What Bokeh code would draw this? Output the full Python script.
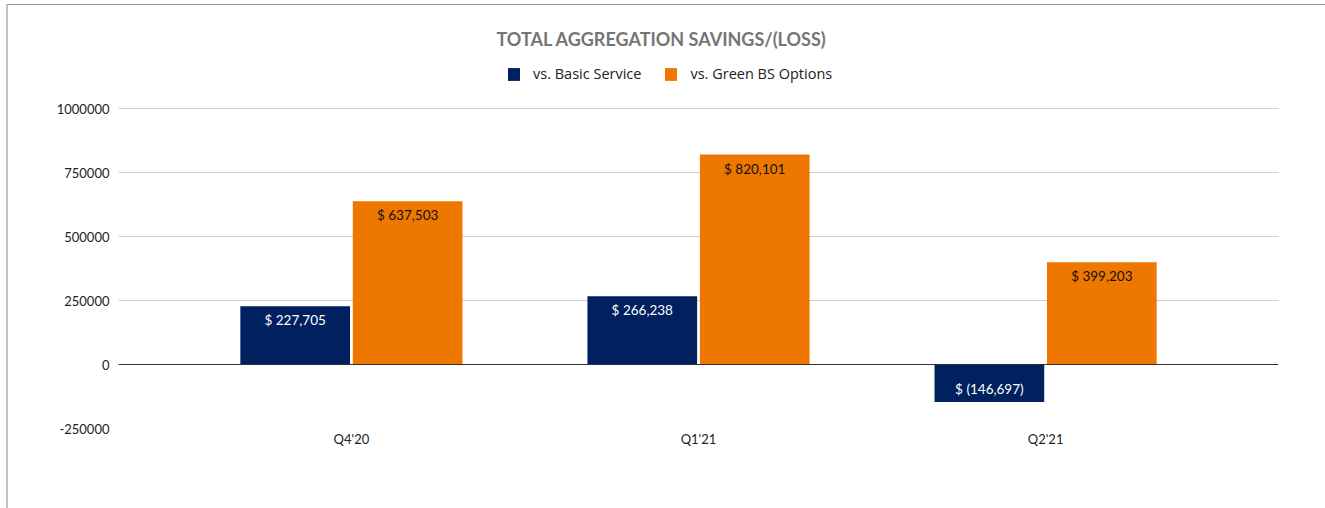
from bokeh.plotting import figure
from bokeh.models import (ColumnDataSource, FactorRange, Range1d, FixedTicker,
                          NumeralTickFormatter, Span, Legend, LegendItem, InlineStyleSheet)
from bokeh.transform import dodge
from bokeh.core.properties import value
from bokeh.embed import file_html
from bokeh.resources import INLINE

categories = ["Q4'20", "Q1'21", "Q2'21"]
basic_service = [227705, 266238, -146697]
green_bs = [637503, 820101, 399203]
y_ticks = [-250000, 0, 250000, 500000, 750000, 1000000]
series_names = ["vs. Basic Service", "vs. Green BS Options"]

NAVY = "#002060"
ORANGE = "#EE7700"
FONT = "Lato"

# frame spans from 60px to 428px; ticks -250000..1000000 occupy 108..428
Y_TOP = 1187500


def fmt(v):
    return f"$ {v:,}" if v >= 0 else f"$ ({-v:,})"


def make_source(vals):
    return ColumnDataSource(dict(
        cat=categories,
        val=vals,
        label=[fmt(v) for v in vals],
        off=[14 if v >= 0 else -13 for v in vals],
    ))


src_b = make_source(basic_service)
src_g = make_source(green_bs)

p = figure(width=1325, height=508,
           x_range=FactorRange(*categories, range_padding=0.114, range_padding_units="percent"),
           y_range=Range1d(y_ticks[0], Y_TOP),
           output_backend="svg", toolbar_location=None,
           min_border_left=118, min_border_right=47, min_border_top=60, min_border_bottom=80)

p.title.text = "TOTAL AGGREGATION SAVINGS/(LOSS)"
p.title.text_font = FONT
p.title.text_font_size = "18px"
p.title.text_font_style = "bold"
p.title.text_color = "#757575"
p.title.align = "left"
p.title.offset = 378
p.title.standoff = 22

p.outline_line_color = None
p.background_fill_color = "white"
p.border_fill_color = "white"

off = 0.162
w = 0.316
rb = p.vbar(x=dodge("cat", -off, range=p.x_range), top="val", bottom=0, width=w,
            source=src_b, fill_color=NAVY, line_color=None)
rg = p.vbar(x=dodge("cat", off, range=p.x_range), top="val", bottom=0, width=w,
            source=src_g, fill_color=ORANGE, line_color=None)

p.text(x=dodge("cat", -off, range=p.x_range), y="val", text="label", y_offset="off",
       source=src_b, text_align="center", text_baseline="middle",
       text_font=value(FONT), text_font_size="13.5px", text_color="white")
p.text(x=dodge("cat", off, range=p.x_range), y="val", text="label", y_offset="off",
       source=src_g, text_align="center", text_baseline="middle",
       text_font=value(FONT), text_font_size="13.5px", text_color="#111111")

p.add_layout(Span(location=0, dimension="width", line_color="#333333", line_width=1))

p.ygrid.ticker = FixedTicker(ticks=y_ticks)
p.ygrid.grid_line_color = "#d0d0d0"
p.xgrid.grid_line_color = None

p.yaxis.ticker = FixedTicker(ticks=y_ticks)
p.yaxis.formatter = NumeralTickFormatter(format="0")
for ax in (p.xaxis, p.yaxis):
    ax.axis_line_color = None
    ax.major_tick_line_color = None
    ax.minor_tick_line_color = None
    ax.major_label_text_font = FONT
    ax.major_label_text_font_size = "13px"
    ax.major_label_text_color = "#222222"
p.yaxis.major_label_standoff = 3
p.xaxis.major_label_standoff = -4

legend = Legend(items=[LegendItem(label=series_names[0], renderers=[rb]),
                       LegendItem(label=series_names[1], renderers=[rg])],
                orientation="horizontal", location=(388, 345),
                glyph_width=15, glyph_height=16, label_standoff=12, spacing=22,
                padding=0, margin=0, border_line_color=None, background_fill_alpha=0,
                label_text_font="Open Sans", label_text_font_size="14.5px",
                label_text_color="#222222")
p.add_layout(legend)

p.stylesheets = [InlineStyleSheet(css=""":host::after { content: ""; position: absolute;
 left: 6px; top: 4px; right: 0; bottom: 0; border-top: 1px solid #9a9a9a;
 border-left: 2px solid #c4c4c4; pointer-events: none; }""")]

open("out.html", "w").write(file_html(p, INLINE))
